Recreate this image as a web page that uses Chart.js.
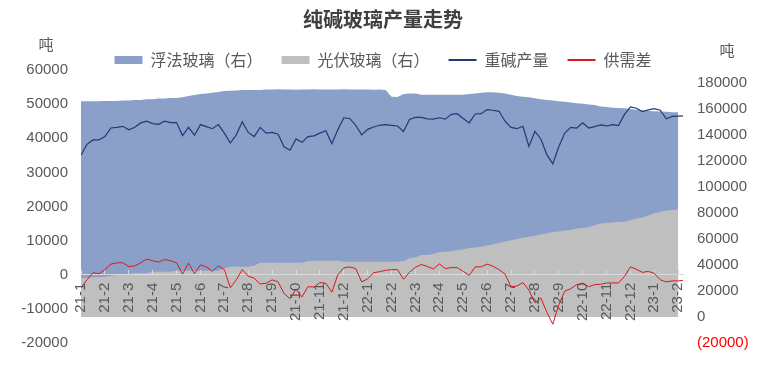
<!DOCTYPE html>
<html>
<head>
<meta charset="utf-8">
<script src="https://cdn.jsdelivr.net/npm/chart.js@4.4.0/dist/chart.umd.min.js"></script>
<style>
    html, body { margin: 0; padding: 0; background: #fff; }
    #wrap { width: 766px; height: 369px; }
</style>
</head>
<body>
<div id="wrap"><canvas id="glassChart" width="766" height="369"></canvas></div>
<script>
// 横轴月份标签（21-1 ~ 23-2）
const monthLabels = ['21-1', '21-2', '21-3', '21-4', '21-5', '21-6', '21-7', '21-8', '21-9', '21-10', '21-11', '21-12',
    '22-1', '22-2', '22-3', '22-4', '22-5', '22-6', '22-7', '22-8', '22-9', '22-10', '22-11', '22-12',
    '23-1', '23-2'];
// 每个点间隔约一周（单位：月）
const weekStep = 0.25;

// 左轴刻度 / 右轴刻度
const leftTicks = [-20000, -10000, 0, 10000, 20000, 30000, 40000, 50000, 60000];
const rightTicks = [-20000, 0, 20000, 40000, 60000, 80000, 100000, 120000, 140000, 160000, 180000];

// 浮法玻璃日产量（右轴，吨）
const floatGlass = [166000, 166000, 166000, 166000, 166200, 166200, 166200, 166500, 166500,
    167000, 167000, 167500, 167500, 168000, 168000, 168500, 168500, 169000,
    170000, 170800, 171500, 172000, 172500, 173000, 173800, 174000, 174300, 174600, 174600, 174600,
    174600, 175000, 175000, 175200, 175000, 175000, 174800, 175000, 175000, 175200, 175000,
    175000, 175000, 175000, 175200, 175000, 175000, 175000, 175000, 174800, 175000,
    174600, 169500, 169200, 171500,
    172000, 172000, 171000, 171000, 171000, 171000, 171000, 171000, 171000, 171000,
    171500, 172000, 172500, 172800, 172800, 172500, 172000, 171000, 170000, 169500,
    169000, 168200, 167500, 167000, 166500, 166000, 165500, 165000, 164500, 164000,
    163500, 163000, 162000, 161500, 161000, 160800, 160500, 160000, 159500, 159000,
    158500, 158200, 158000, 157800, 157500, 157500];

// 光伏玻璃日产量（右轴，吨）
const pvGlass = [30000, 30000, 30500, 30500, 31000,
    31500, 32300, 32300, 33000, 33600, 33600, 33600, 34800, 34800, 34800, 34800, 35600,
    35600, 35600, 35600, 35600, 35600, 35600, 35600,
    37500, 38700, 38700, 38700, 38700, 39500,
    41800, 41800, 41800, 41800, 41800, 41800, 41800, 41800,
    43000, 43300, 43300, 43300, 43300, 43300,
    42500, 42500, 42500, 42500, 42500, 42500, 42500, 42500, 42500, 42500, 43000,
    45100, 46000, 47700, 47700, 48500, 50000, 50200, 50800, 51500, 52000,
    53000, 53500, 54000, 55000, 56000, 57000, 58000, 59000, 60000, 61000,
    61800, 62500, 63500, 64500, 65300, 65800, 66500, 67000, 68000, 68500,
    69000, 70500, 72000, 72300, 72700, 73000, 73300, 74500, 75800, 76500,
    78000, 79800, 81000, 82000, 82300, 82800];

// 重碱产量（左轴，吨）
const heavySoda = [35000, 38200, 39500, 39500, 40500, 43000, 43200, 43500, 42500, 43200,
    44500, 45000, 44300, 44100, 45000, 44600, 44600, 40800, 43200, 40900,
    44000, 43400, 42800, 44000, 41500, 38600, 41000, 44800, 41700, 40500,
    43200, 41500, 41700, 41200, 37500, 36500, 39800, 38800, 40500, 40700,
    41500, 42200, 38400, 42500, 46000, 45800, 43800, 41000, 42600, 43300,
    43800, 44000, 43800, 43600, 42000, 45500, 46100, 46100, 45700, 45600,
    46000, 45600, 47000, 47200, 45800, 44500, 47100, 47200, 48400, 48200,
    47900, 45000, 43200, 42800, 43500, 37600, 42000, 39800, 35200, 32500,
    37500, 41500, 43200, 43000, 44500, 43000, 43400, 43900, 43600, 44000,
    43700, 47000, 49200, 48800, 47800, 48300, 48700, 48200, 45700, 46400,
    46500, 46600];

// 供需差（左轴，吨）
const supplyGap = [-3800, -1500, 600, 300, 1500, 3100, 3500, 3500, 2400, 2600,
    3500, 4600, 4100, 3700, 4500, 4100, 3500, 200, 3400, 300,
    2900, 2300, 1000, 2600, 1500, -3800, -1500, 1500, -400, -1000,
    -2700, -2500, -1500, -2100, -5500, -7000, -4200, -6500, -3500, -3600,
    -2300, -2500, -5100, 0, 2000, 2300, 1800, -2100, -1200, 600,
    900, 1300, 1500, 1500, -1300, 700, 2200, 3000, 2400, 1700,
    3200, 1800, 2100, 2100, 1000, -200, 2300, 2300, 3100, 2500,
    1500, 200, -3500, -3300, -2300, -4500, -8200, -6800, -11000, -14500,
    -8800, -4800, -4100, -2900, -2500, -3500, -2900, -2800, -2400, -2400,
    -2400, -500, 2300, 1600, 700, 1000, 400, -1500, -2100, -1800,
    -1800, -1600];

const toPoints = (arr) => arr.map((v, i) => ({ x: i * weekStep, y: v }));

const axisGray = '#595959';
const numFont = { family: '"Liberation Sans", Arial, sans-serif', size: 15 };
const cjkFont = '"Noto Sans CJK SC", sans-serif';

// 两侧“吨”单位
const unitLabels = {
    id: 'unitLabels',
    afterDraw(chart) {
        const ctx = chart.ctx;
        ctx.save();
        ctx.font = '15px ' + cjkFont;
        ctx.fillStyle = axisGray;
        ctx.textAlign = 'center';
        ctx.textBaseline = 'middle';
        ctx.fillText('吨', 46, 44);
        ctx.fillText('吨', 727, 50);
        ctx.restore();
    }
};

const ctx = document.getElementById('glassChart').getContext('2d');
new Chart(ctx, {
    type: 'line',
    data: {
        datasets: [{
            label: '浮法玻璃（右）',
            data: toPoints(floatGlass),
            yAxisID: 'y1',
            backgroundColor: '#8AA0C8',
            borderColor: '#8AA0C8',
            borderWidth: 0,
            fill: 'origin',
            pointRadius: 0,
            pointStyle: 'rect',
            order: 3,
        }, {
            label: '光伏玻璃（右）',
            data: toPoints(pvGlass),
            yAxisID: 'y1',
            backgroundColor: '#BFBFBF',
            borderColor: '#BFBFBF',
            borderWidth: 0,
            fill: 'origin',
            pointRadius: 0,
            pointStyle: 'rect',
            order: 2,
        }, {
            label: '重碱产量',
            data: toPoints(heavySoda),
            yAxisID: 'y',
            borderColor: '#1F3A78',
            backgroundColor: '#1F3A78',
            borderWidth: 1.2,
            fill: false,
            pointRadius: 0,
            pointStyle: 'line',
            order: 1,
        }, {
            label: '供需差',
            data: toPoints(supplyGap),
            yAxisID: 'y',
            borderColor: '#D7191C',
            backgroundColor: '#D7191C',
            borderWidth: 1,
            fill: false,
            pointRadius: 0,
            pointStyle: 'line',
            order: 0,
        }]
    },
    options: {
        responsive: false,
        animation: false,
        layout: { padding: { top: 0, left: 0, right: 0, bottom: 26 } },
        plugins: {
            // 面积先画，月份标签压在面积上，折线再压在标签上
            filler: { drawTime: 'beforeDraw' },
            title: {
                display: true,
                text: '纯碱玻璃产量走势',
                color: '#404040',
                font: { family: cjkFont, size: 20, weight: 'bold' },
                padding: { top: 7, bottom: 2 },
            },
            legend: {
                display: true,
                position: 'top',
                maxHeight: 37,
                labels: {
                    color: axisGray,
                    font: { family: cjkFont, size: 16 },
                    usePointStyle: true,
                    pointStyleWidth: 28,
                    boxHeight: 8,
                    padding: 19,
                    generateLabels(chart) {
                        return chart.data.datasets.map((ds, i) => ({
                            text: ds.label,
                            datasetIndex: i,
                            fillStyle: ds.backgroundColor,
                            strokeStyle: ds.borderColor,
                            lineWidth: ds.pointStyle === 'line' ? 2 : 0,
                            pointStyle: ds.pointStyle,
                            fontColor: axisGray,
                            hidden: false,
                        }));
                    }
                }
            },
            tooltip: { enabled: false },
        },
        scales: {
            x: {
                type: 'linear',
                min: 0,
                max: 25.2,
                position: { y: 0 },
                afterBuildTicks: (scale) => {
                    scale.ticks = monthLabels.map((_, i) => ({ value: i }));
                },
                ticks: {
                    autoSkip: false,
                    minRotation: 90,
                    maxRotation: 90,
                    padding: 13,
                    color: axisGray,
                    font: numFont,
                    callback: (v) => monthLabels[v],
                },
                grid: { z: 0, drawOnChartArea: false, drawTicks: true, tickLength: -5, color: '#D9D9D9' },
                border: { color: '#D9D9D9', width: 1 },
            },
            y: {
                position: 'left',
                min: -20000,
                max: 60000,
                afterFit: (scale) => { scale.width = 81; },
                afterBuildTicks: (scale) => {
                    scale.ticks = leftTicks.map(v => ({ value: v }));
                },
                ticks: {
                    padding: 13,
                    color: axisGray,
                    font: numFont,
                    callback: (v) => String(v),
                },
                grid: { display: false, drawTicks: false },
                border: { display: false },
            },
            y1: {
                position: 'right',
                min: -20000,
                max: 190000,
                afterFit: (scale) => { scale.width = 83; },
                afterBuildTicks: (scale) => {
                    scale.ticks = rightTicks.map(v => ({ value: v }));
                },
                ticks: {
                    padding: 14,
                    color: (c) => (c.tick && c.tick.value < 0 ? '#FF0000' : axisGray),
                    font: numFont,
                    callback: (v) => (v < 0 ? '(' + (-v) + ')' : String(v)),
                },
                grid: { display: false, drawTicks: false },
                border: { display: false },
            }
        }
    },
    plugins: [unitLabels]
});
</script>
</body>
</html>
